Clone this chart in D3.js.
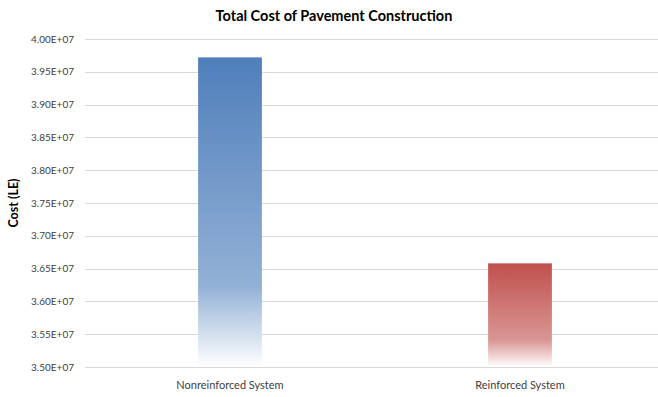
<!DOCTYPE html>
<html><head><meta charset="utf-8">
<script src="https://cdn.jsdelivr.net/npm/d3@7"></script>
<style>body{margin:0;background:#fff;} svg{display:block;font-family:Lato, "Open Sans", sans-serif;}</style>
</head><body><svg id="c" width="658" height="397"></svg>
<script>
const categories = ["Nonreinforced System", "Reinforced System"];
const values = [3.972e7, 3.658e7];
const tickValues = [3.50e7, 3.55e7, 3.60e7, 3.65e7, 3.70e7, 3.75e7, 3.80e7, 3.85e7, 3.90e7, 3.95e7, 4.00e7];
const tickLabels = ["3.50E+07","3.55E+07","3.60E+07","3.65E+07","3.70E+07","3.75E+07","3.80E+07","3.85E+07","3.90E+07","3.95E+07","4.00E+07"];
const title = "Total Cost of Pavement Construction";
const yTitle = "Cost (LE)";

const svg = d3.select("#c");
const mLeft = 85, mRight = 665, mTop = 39, mBottom = 367;
const x = d3.scaleBand().domain(categories).range([mLeft, mRight]).paddingInner(0.78).paddingOuter(0.39);
const y = d3.scaleLinear().domain([3.5e7, 4.0e7]).range([mBottom, mTop]);

const defs = svg.append("defs");
const grads = [
  {id:"gb", top:"#4f7fbb", mid:"#93b1d6", end:"#ffffff"},
  {id:"gr", top:"#c0504d", mid:"#d99694", end:"#ffffff"}
];
grads.forEach(g => {
  const lg = defs.append("linearGradient").attr("id", g.id).attr("x1",0).attr("x2",0).attr("y1",0).attr("y2",1);
  lg.append("stop").attr("offset","0%").attr("stop-color",g.top);
  lg.append("stop").attr("offset","74%").attr("stop-color",g.mid);
  lg.append("stop").attr("offset","100%").attr("stop-color",g.end);
});

svg.append("g").selectAll("line").data(tickValues.slice(1)).join("line")
  .attr("x1", mLeft).attr("x2", 658)
  .attr("y1", d => Math.round(y(d)) + 0.5).attr("y2", d => Math.round(y(d)) + 0.5)
  .attr("stroke", "#d9d9d9").attr("stroke-width", 1);

svg.append("g").selectAll("text").data(tickValues).join("text")
  .attr("x", 74).attr("y", d => y(d) + 3.5)
  .attr("text-anchor", "end").attr("font-size", "10px").attr("fill", "#404040")
  .text((d,i) => tickLabels[i]);

const gradIds = ["gb", "gr"];
svg.append("g").selectAll("rect").data(values).join("rect")
  .attr("x", (d,i) => x(categories[i]))
  .attr("width", x.bandwidth())
  .attr("y", d => y(d))
  .attr("height", d => y(3.5e7) - y(d))
  .attr("fill", (d,i) => `url(#${gradIds[i]})`);

svg.append("line").attr("x1", mLeft).attr("x2", 658).attr("y1", mBottom + 0.5).attr("y2", mBottom + 0.5)
  .attr("stroke", "#d9d9d9").attr("stroke-width", 1);

svg.append("g").selectAll("text").data(categories).join("text")
  .attr("x", d => x(d) + x.bandwidth()/2).attr("y", 389)
  .attr("text-anchor", "middle").attr("font-size", "11px").attr("fill", "#404040")
  .text(d => d);

svg.append("text").attr("x", 334).attr("y", 21).attr("text-anchor", "middle")
  .attr("font-size", "14.5px").attr("font-weight", "bold").attr("fill", "#000").text(title);

svg.append("text").attr("transform", "translate(18,203) rotate(-90)").attr("text-anchor", "middle")
  .attr("font-size", "12.5px").attr("font-weight", "bold").attr("fill", "#000").text(yTitle);
</script></body></html>
